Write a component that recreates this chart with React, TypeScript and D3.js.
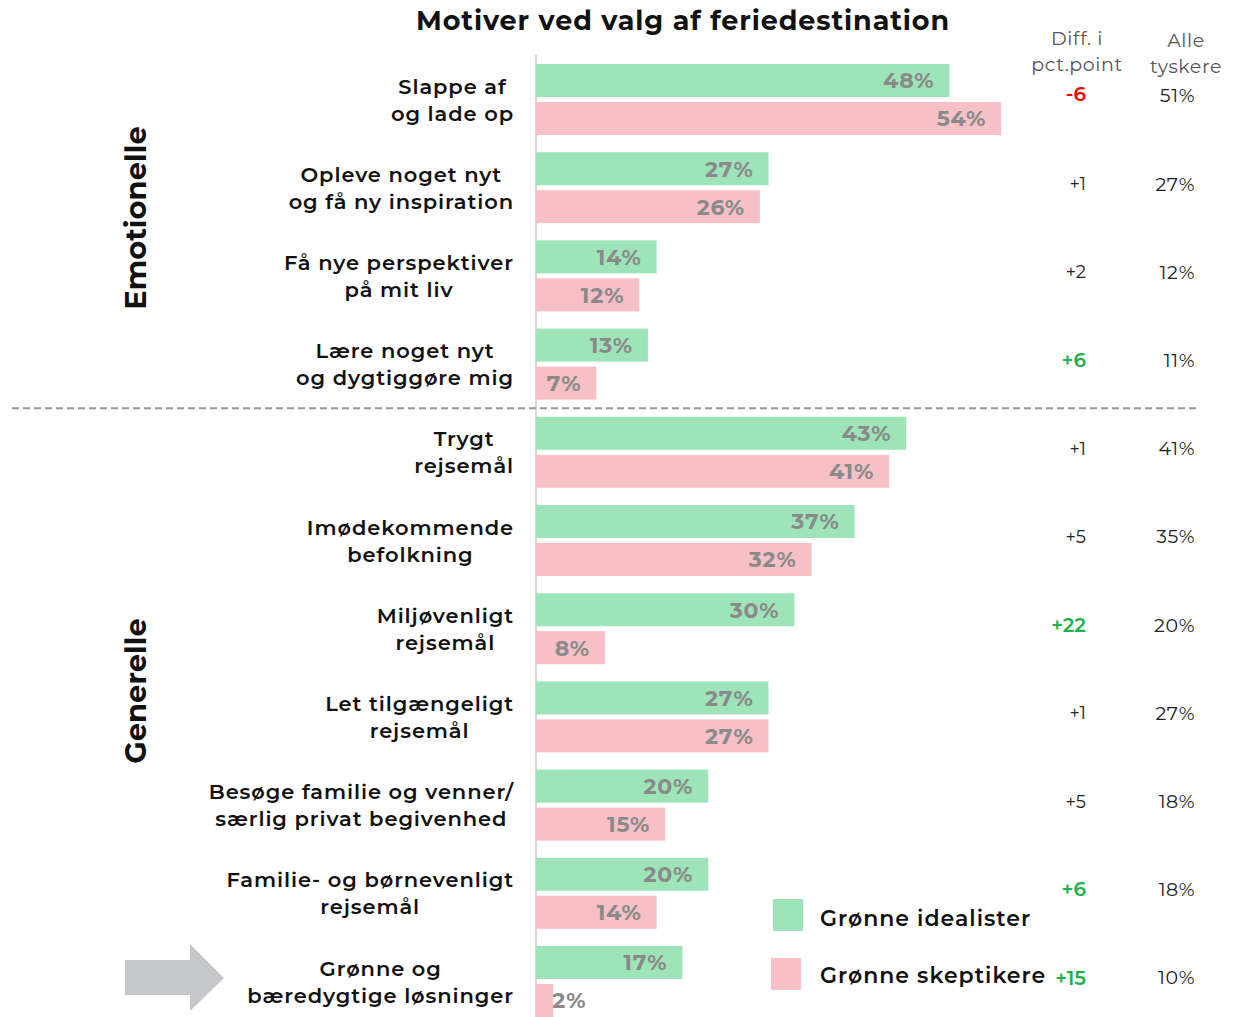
import { useRef, useEffect } from 'react';
import * as d3 from 'd3';

const CATEGORIES = [
  ['Slappe af', 'og lade op'],
  ['Opleve noget nyt', 'og få ny inspiration'],
  ['Få nye perspektiver', 'på mit liv'],
  ['Lære noget nyt', 'og dygtiggøre mig'],
  ['Trygt', 'rejsemål'],
  ['Imødekommende', 'befolkning'],
  ['Miljøvenligt', 'rejsemål'],
  ['Let tilgængeligt', 'rejsemål'],
  ['Besøge familie og venner/', 'særlig privat begivenhed'],
  ['Familie- og børnevenligt', 'rejsemål'],
  ['Grønne og', 'bæredygtige løsninger'],
];
const IDEALISTER = [48, 27, 14, 13, 43, 37, 30, 27, 20, 20, 17];
const SKEPTIKERE = [54, 26, 12, 7, 41, 32, 8, 27, 15, 14, 2];
const DIFF = ['-6', '+1', '+2', '+6', '+1', '+5', '+22', '+1', '+5', '+6', '+15'];
const DIFF_TONE = ['neg', '', '', 'pos', '', '', 'pos', '', '', 'pos', 'pos'];
const ALLE = [51, 27, 12, 11, 41, 35, 20, 27, 18, 18, 10];
const SERIES = ['Grønne idealister', 'Grønne skeptikere'];

const GREEN = '#9de5b9';
const PINK = '#f7c0c6';
const FONT = 'Montserrat, "Open Sans", sans-serif';
const W = 1244;
const H = 1017;

export default function App() {
  const svgRef = useRef<SVGSVGElement>(null);

  useEffect(() => {
    const svg = d3.select(svgRef.current);
    svg.selectAll('*').remove();

    const x = d3.scaleLinear().domain([0, 54]).range([536, 1001]);
    const y = d3.scaleBand<number>()
      .domain(d3.range(CATEGORIES.length))
      .range([64, H])
      .paddingInner(0.195)
      .paddingOuter(0);
    const sub = d3.scaleBand<string>()
      .domain(['g', 'p'])
      .range([0, y.bandwidth()])
      .paddingInner(0.13);

    // title
    svg.append('text')
      .attr('x', 683).attr('y', 30)
      .attr('text-anchor', 'middle')
      .attr('font-size', 27).attr('font-weight', 700)
      .attr('letter-spacing', 0.9)
      .attr('fill', '#111')
      .text('Motiver ved valg af feriedestination');

    // axis line
    svg.append('line')
      .attr('x1', x(0)).attr('x2', x(0))
      .attr('y1', 55).attr('y2', H)
      .attr('stroke', '#d9d9d9').attr('stroke-width', 2);

    // dashed divider
    const divY = (y(3)! + y.bandwidth() + y(4)!) / 2;
    svg.append('line')
      .attr('x1', 12).attr('x2', 1198)
      .attr('y1', divY).attr('y2', divY)
      .attr('stroke', '#999').attr('stroke-width', 2)
      .attr('stroke-dasharray', '7 4');

    // bars
    const rows = CATEGORIES.map((c, i) => ({ i, c, g: IDEALISTER[i], p: SKEPTIKERE[i] }));
    const grp = svg.selectAll('g.row').data(rows).join('g').attr('class', 'row')
      .attr('transform', (d) => `translate(0,${y(d.i)})`);

    (['g', 'p'] as const).forEach((k) => {
      grp.append('rect')
        .attr('x', x(0))
        .attr('y', sub(k)!)
        .attr('width', (d) => x(d[k]) - x(0))
        .attr('height', sub.bandwidth())
        .attr('fill', k === 'g' ? GREEN : PINK);
      grp.append('text')
        .attr('x', (d) => (d[k] < 5 ? x(d[k]) - 1 : x(d[k]) - 15))
        .attr('y', sub(k)! + sub.bandwidth() / 2)
        .attr('dy', '0.36em')
        .attr('text-anchor', (d) => (d[k] < 5 ? 'start' : 'end'))
        .attr('font-size', 22).attr('font-weight', 700)
        .attr('letter-spacing', 0.8)
        .attr('fill', '#8a8a8a')
        .text((d) => `${d[k]}%`);
    });

    // category labels, centered block right-aligned to 514
    grp.each(function (d) {
      const g = d3.select(this);
      const t = g.append('text')
        .attr('font-size', 21).attr('font-weight', 600)
        .attr('letter-spacing', 0.9)
        .attr('fill', '#111')
        .attr('text-anchor', 'middle');
      const spans = d.c.map((line, j) =>
        t.append('tspan')
          .attr('y', y.bandwidth() / 2 + (j - 0.5) * 27)
          .attr('dy', '0.36em')
          .text(line));
      const maxW = d3.max(spans, (s) => (s.node() as SVGTextContentElement).getComputedTextLength()) || 0;
      spans.forEach((s) => s.attr('x', 514 - maxW / 2));
    });

    // diff column
    grp.append('text')
      .attr('x', 1086)
      .attr('y', (d) => y.bandwidth() / 2 - (d.i === 0 ? 6 : 4))
      .attr('dy', '0.36em')
      .attr('text-anchor', 'end')
      .attr('font-size', (d) => (DIFF_TONE[d.i] ? 20 : 18))
      .attr('font-weight', (d) => (DIFF_TONE[d.i] ? 600 : 400))
      .attr('fill', (d) => (DIFF_TONE[d.i] === 'neg' ? '#ff0000' : DIFF_TONE[d.i] === 'pos' ? '#1fb24a' : '#222'))
      .text((d) => DIFF[d.i]);

    // alle tyskere column
    grp.append('text')
      .attr('x', 1195)
      .attr('y', (d) => y.bandwidth() / 2 - 4)
      .attr('dy', '0.36em')
      .attr('text-anchor', 'end')
      .attr('font-size', 19).attr('font-weight', 400)
      .attr('letter-spacing', 0.6)
      .attr('fill', '#222')
      .text((d) => `${ALLE[d.i]}%`);

    // column headers
    const hdr = (cx: number, lines: string[], y0: number) => {
      lines.forEach((l, j) => {
        svg.append('text')
          .attr('x', cx).attr('y', y0 + j * 26)
          .attr('text-anchor', 'middle')
          .attr('font-size', 19).attr('fill', '#555')
          .attr('letter-spacing', 0.6)
          .text(l);
      });
    };
    hdr(1077, ['Diff. i', 'pct.point'], 45);
    hdr(1186, ['Alle', 'tyskere'], 47);

    // group labels
    const side = (label: string, cy: number) => {
      svg.append('text')
        .attr('transform', `translate(146,${cy}) rotate(-90)`)
        .attr('text-anchor', 'middle')
        .attr('font-size', 29).attr('font-weight', 700)
        .attr('fill', '#111')
        .text(label);
    };
    side('Emotionelle', 218);
    side('Generelle', 691);

    // legend
    const leg = svg.append('g');
    SERIES.forEach((s, i) => {
      leg.append('rect')
        .attr('x', 773 - i * 2).attr('y', 899 + i * 59)
        .attr('width', 30).attr('height', 32)
        .attr('fill', i === 0 ? GREEN : PINK);
      leg.append('text')
        .attr('x', 820).attr('y', 918 + i * 57)
        .attr('dy', '0.36em')
        .attr('font-size', 22).attr('font-weight', 600)
        .attr('letter-spacing', 1)
        .attr('fill', '#111')
        .text(s);
    });

    // arrow
    svg.append('path')
      .attr('d', 'M125,960 L190,960 L190,944 L224,978 L190,1011 L190,995 L125,995 Z')
      .attr('fill', '#c6c7ca');
  }, []);

  return (
    <svg
      ref={svgRef}
      width={W}
      height={H}
      style={{ position: 'absolute', left: 0, top: 0, fontFamily: FONT, background: '#fff' }}
    />
  );
}
